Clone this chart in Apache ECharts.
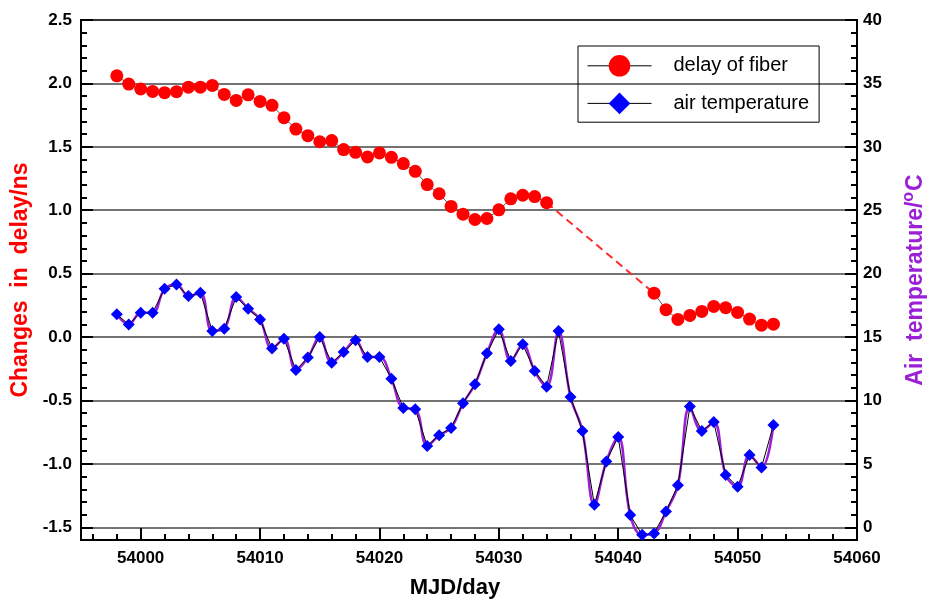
<!DOCTYPE html>
<html>
<head>
<meta charset="utf-8">
<script src="https://cdn.jsdelivr.net/npm/echarts@6/dist/echarts.min.js"></script>
<style>
html,body{margin:0;padding:0;background:#fff;}
#chart{width:927px;height:601px;}
</style>
</head>
<body>
<div id="chart"></div>
<script>
// ---- data ----
var fiberStart1 = 53998; // consecutive days 53998..54034
var delay1 = [2.06,1.995,1.956,1.937,1.927,1.935,1.97,1.97,1.984,1.913,1.866,1.91,1.858,1.827,1.73,1.64,1.588,1.54,1.549,1.478,1.457,1.42,1.452,1.417,1.368,1.307,1.202,1.13,1.03,0.969,0.927,0.935,1.003,1.09,1.118,1.108,1.06];
var fiberStart2 = 54043; // consecutive days 54043..54053
var delay2 = [0.346,0.216,0.139,0.171,0.202,0.242,0.231,0.194,0.142,0.094,0.102];
var tempStart = 53998; // consecutive days 53998..54053
var temperature = [16.79,16.0,16.92,16.92,18.81,19.15,18.23,18.5,15.47,15.66,18.15,17.24,16.39,14.09,14.87,12.4,13.38,15.0,12.98,13.82,14.74,13.43,13.43,11.72,
  9.41,9.31,6.42,7.26,7.84,9.78,11.28,13.72,15.61,13.11,14.43,12.32,11.09,15.47,10.28,7.6,1.77,5.19,7.13,0.98,-0.59,-0.48,1.25,3.32,9.52,7.6,8.31,4.13,3.19,5.71,4.72,8.07];
var xTicks = [54000,54010,54020,54030,54040,54050,54060];
var leftTicks = [-1.5,-1.0,-0.5,0.0,0.5,1.0,1.5,2.0,2.5];
var rightTicks = [0,5,10,15,20,25,30,35,40];

function pairs(start, vals){ return vals.map(function(v,i){ return [start+i, v]; }); }
var xMinor = []; for (var d = 53996; d <= 54058; d += 2) { if (xTicks.indexOf(d) < 0) xMinor.push(d); }

var FONT = "'Liberation Sans', Arial, Helvetica, sans-serif";
var fiber1 = pairs(fiberStart1, delay1);
var fiber2 = pairs(fiberStart2, delay2);
var gap = [fiber1[fiber1.length-1], fiber2[0]];
var temp = pairs(tempStart, temperature);

var chart = echarts.init(document.getElementById('chart'), null, {renderer:'canvas'});
var tickStyle = {color:'#000', width:2};
chart.setOption({
  animation:false,
  backgroundColor:'#fff',
  grid:{left:81, top:20, right:70, bottom:61, show:true, borderColor:'#000', borderWidth:2,
        backgroundColor:'transparent', containLabel:false, outerBoundsMode:'none'},
  legend:{
    data:['delay of fiber','air temperature'],
    orient:'vertical', left:578, top:46,
    itemWidth:64, itemHeight:27, itemGap:16,
    padding:[9,10,8,9],
    borderColor:'#000', borderWidth:1,
    lineStyle:{color:'#000', width:1},
    textStyle:{fontFamily:FONT, fontSize:20, color:'#000', padding:[0,0,0,17]}
  },
  xAxis:[
    {type:'value', min:53995, max:54060, position:'bottom',
     axisLine:{show:true, onZero:false, lineStyle:{color:'#000', width:2}},
     axisTick:{show:true, inside:true, length:12, lineStyle:tickStyle, customValues:xTicks},
     axisLabel:{customValues:xTicks, margin:10, fontFamily:FONT, fontSize:17, color:'#000', fontWeight:'bold',
       formatter:function(v){ return String(v); }},
     splitLine:{show:false},
     name:'MJD/day', nameLocation:'middle', nameGap:37,
     nameTextStyle:{fontFamily:FONT, fontSize:22, fontWeight:'bold', color:'#000', padding:[0,28,0,0]}
    },
    {type:'value', min:53995, max:54060, position:'bottom',
     axisLine:{show:false, onZero:false},
     axisTick:{show:true, inside:true, length:6, lineStyle:tickStyle, customValues:xMinor},
     axisLabel:{show:false}, splitLine:{show:false}
    }
  ],
  yAxis:[
    {type:'value', min:-1.6, max:2.5, position:'left',
     axisLine:{show:true, onZero:false, lineStyle:{color:'#000', width:2}},
     axisTick:{show:true, inside:true, length:12, lineStyle:tickStyle, customValues:leftTicks},
     axisLabel:{customValues:leftTicks, margin:9, fontFamily:FONT, fontSize:17, fontWeight:'bold', color:'#000',
       formatter:function(v){ return v.toFixed(1); }},
     splitLine:{show:true, lineStyle:{color:'#444', width:1.5}},
     name:'Changes  in  delay/ns', nameLocation:'middle', nameGap:45, nameRotate:90,
     nameTextStyle:{fontFamily:FONT, fontSize:23, fontWeight:'bold', color:'#ff0000'}
    },
    {type:'value', min:-1.6, max:2.5, interval:0.1, position:'left',
     axisLine:{show:false, onZero:false},
     axisTick:{show:true, inside:true, length:6, lineStyle:tickStyle},
     axisLabel:{show:false}, splitLine:{show:false}
    },
    {type:'value', min:-1, max:40, position:'right',
     axisLine:{show:true, onZero:false, lineStyle:{color:'#000', width:2}},
     axisTick:{show:true, inside:true, length:12, lineStyle:tickStyle, customValues:rightTicks},
     axisLabel:{customValues:rightTicks, margin:6, fontFamily:FONT, fontSize:17, fontWeight:'bold', color:'#000'},
     splitLine:{show:false},
     name:'{a|Air  temperature/}{s|o}{a|C}', nameLocation:'middle', nameGap:44, nameRotate:90,
     nameTextStyle:{color:'#9b1fd6', rich:{
        a:{fontFamily:FONT, fontSize:23, fontWeight:'bold', color:'#9b1fd6', verticalAlign:'bottom'},
        s:{fontFamily:FONT, fontSize:16, fontWeight:'bold', color:'#9b1fd6', verticalAlign:'top', padding:[0,1,10,0]}
     }}
    },
    {type:'value', min:-1, max:40, interval:1, position:'right',
     axisLine:{show:false, onZero:false},
     axisTick:{show:true, inside:true, length:6, lineStyle:tickStyle},
     axisLabel:{show:false}, splitLine:{show:false}
    }
  ],
  series:[
    {name:'delay of fiber', type:'line', xAxisIndex:0, yAxisIndex:0, data:fiber1,
     symbol:'circle', symbolSize:13, itemStyle:{color:'#ff0000'},
     lineStyle:{color:'#555', width:1}, z:5},
    {name:'delay of fiber', type:'line', xAxisIndex:0, yAxisIndex:0, data:fiber2,
     symbol:'circle', symbolSize:13, itemStyle:{color:'#ff0000'},
     lineStyle:{color:'#555', width:1}, z:5},
    {name:'fiber gap', type:'line', xAxisIndex:0, yAxisIndex:0, data:gap,
     symbol:'none', lineStyle:{color:'#ff2a2a', width:2, type:[8,5]}, z:4},
    {name:'temperature smooth', type:'line', xAxisIndex:0, yAxisIndex:2, data:temp,
     symbol:'none', smooth:0.4, lineStyle:{color:'#9b1fd6', width:2.5}, z:3},
    {name:'air temperature', type:'line', xAxisIndex:0, yAxisIndex:2, data:temp,
     symbol:'diamond', symbolSize:12, itemStyle:{color:'#0000ff'},
     lineStyle:{color:'#000', width:1}, z:4}
  ]
});
</script>
</body>
</html>
